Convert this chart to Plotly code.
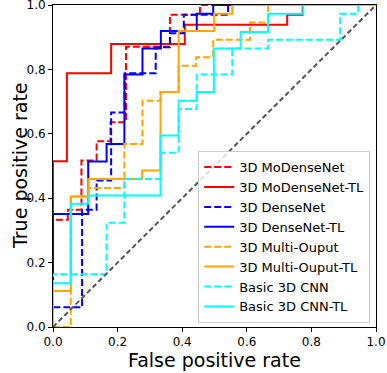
import plotly.graph_objects as go

# ROC corner points
modense_fpr = [0, 0, 0.046, 0.046, 0.088, 0.088, 0.135, 0.135, 0.178, 0.178, 0.226, 0.226, 0.362, 0.362, 0.455, 0.455, 1]
modense_tpr = [0, 0.333, 0.333, 0.364, 0.364, 0.517, 0.517, 0.577, 0.577, 0.636, 0.636, 0.87, 0.87, 0.97, 0.97, 1, 1]

modense_tl_fpr = [0, 0, 0.043, 0.043, 0.18, 0.18, 0.408, 0.408, 0.725, 0.725, 0.773, 0.773, 1]
modense_tl_tpr = [0, 0.515, 0.515, 0.788, 0.788, 0.879, 0.879, 0.939, 0.939, 0.97, 0.97, 1, 1]

dense_fpr = [0, 0, 0.09, 0.09, 0.135, 0.135, 0.18, 0.18, 0.222, 0.222, 0.318, 0.318, 0.362, 0.362, 0.405, 0.405, 0.542, 0.542, 1]
dense_tpr = [0, 0.061, 0.061, 0.364, 0.364, 0.455, 0.455, 0.666, 0.666, 0.788, 0.788, 0.869, 0.869, 0.912, 0.912, 0.97, 0.97, 1, 1]

dense_tl_fpr = [0, 0, 0.109, 0.109, 0.166, 0.166, 0.221, 0.221, 0.277, 0.277, 0.334, 0.334, 0.445, 0.445, 0.496, 0.496, 1]
dense_tl_tpr = [0, 0.351, 0.351, 0.514, 0.514, 0.568, 0.568, 0.784, 0.784, 0.865, 0.865, 0.919, 0.919, 0.973, 0.973, 1, 1]

multi_fpr = [0, 0.055, 0.055, 0.109, 0.109, 0.221, 0.221, 0.277, 0.277, 0.333, 0.333, 0.389, 0.389, 0.443, 0.443, 0.496, 0.496, 0.61, 0.61, 0.666, 0.666, 1]
multi_tpr = [0, 0, 0.405, 0.405, 0.432, 0.432, 0.568, 0.568, 0.703, 0.703, 0.73, 0.73, 0.811, 0.811, 0.838, 0.838, 0.892, 0.892, 0.946, 0.946, 1, 1]

multi_tl_fpr = [0, 0, 0.055, 0.055, 0.109, 0.109, 0.276, 0.276, 0.333, 0.333, 0.389, 0.389, 0.499, 0.499, 0.555, 0.555, 1]
multi_tl_tpr = [0, 0.112, 0.112, 0.405, 0.405, 0.46, 0.46, 0.486, 0.486, 0.73, 0.73, 0.919, 0.919, 0.973, 0.973, 1, 1]

cnn_fpr = [0, 0, 0.166, 0.166, 0.221, 0.221, 0.333, 0.333, 0.389, 0.389, 0.445, 0.445, 0.555, 0.555, 0.666, 0.666, 0.889, 0.889, 0.945, 0.945, 1]
cnn_tpr = [0, 0.164, 0.164, 0.324, 0.324, 0.46, 0.46, 0.541, 0.541, 0.677, 0.677, 0.784, 0.784, 0.865, 0.865, 0.892, 0.892, 0.973, 0.973, 1, 1]

cnn_tl_fpr = [0, 0, 0.055, 0.055, 0.109, 0.109, 0.333, 0.333, 0.389, 0.389, 0.445, 0.445, 0.498, 0.498, 0.581, 0.581, 0.666, 0.666, 0.775, 0.775, 1]
cnn_tl_tpr = [0, 0.136, 0.136, 0.383, 0.383, 0.408, 0.408, 0.595, 0.595, 0.703, 0.703, 0.73, 0.73, 0.865, 0.865, 0.916, 0.916, 0.973, 0.973, 1, 1]

tick_vals = [0, 0.2, 0.4, 0.6, 0.8, 1.0]

curves = [
    ("3D MoDenseNet", modense_fpr, modense_tpr, "red", "7px,3px"),
    ("3D MoDenseNet-TL", modense_tl_fpr, modense_tl_tpr, "red", "solid"),
    ("3D DenseNet", dense_fpr, dense_tpr, "blue", "7px,3px"),
    ("3D DenseNet-TL", dense_tl_fpr, dense_tl_tpr, "blue", "solid"),
    ("3D Multi-Ouput", multi_fpr, multi_tpr, "orange", "7px,3px"),
    ("3D Multi-Ouput-TL", multi_tl_fpr, multi_tl_tpr, "orange", "solid"),
    ("Basic 3D CNN", cnn_fpr, cnn_tpr, "cyan", "7px,3px"),
    ("Basic 3D CNN-TL", cnn_tl_fpr, cnn_tl_tpr, "cyan", "solid"),
]

fig = go.Figure()
for name, xs, ys, col, dash in curves:
    fig.add_trace(go.Scatter(x=xs, y=ys, mode="lines", name=name,
                             line=dict(color=col, width=2, dash=dash)))

# chance line
fig.add_trace(go.Scatter(x=[0, 1], y=[0, 1], mode="lines", showlegend=False,
                         line=dict(color="#555555", width=2, dash="5px,3px")))

axis_style = dict(range=[0, 1], tickvals=tick_vals, tickformat=".1f",
                  ticks="outside", ticklen=4, tickcolor="black",
                  showline=True, linecolor="black", linewidth=1, mirror=True,
                  showgrid=False, zeroline=False, automargin=False,
                  ticklabeloverflow="allow",
                  tickfont=dict(size=12, color="black"))

fig.update_layout(
    width=387, height=373,
    margin=dict(l=53, r=11, t=5, b=46),
    paper_bgcolor="white", plot_bgcolor="white",
    font=dict(family="DejaVu Sans", color="black"),
    xaxis=axis_style,
    yaxis=axis_style,
    legend=dict(x=0.982, xanchor="right", y=0.012, yanchor="bottom",
                bgcolor="rgba(255,255,255,0.8)", bordercolor="#cccccc", borderwidth=1,
                font=dict(size=13), tracegroupgap=0),
    annotations=[
        dict(text="False positive rate", xref="paper", yref="paper", x=0.5, y=0,
             yanchor="middle", yshift=-33, showarrow=False, font=dict(size=19)),
        dict(text="True positive rate", xref="paper", yref="paper", x=0, y=0.5,
             xanchor="center", xshift=-33, textangle=-90, showarrow=False, font=dict(size=19)),
    ],
)

# drop the page's default body margin so the figure sits at the window corner
fig.write_html("out.html", config={"displayModeBar": False},
               post_script="document.body.style.margin='0';")
